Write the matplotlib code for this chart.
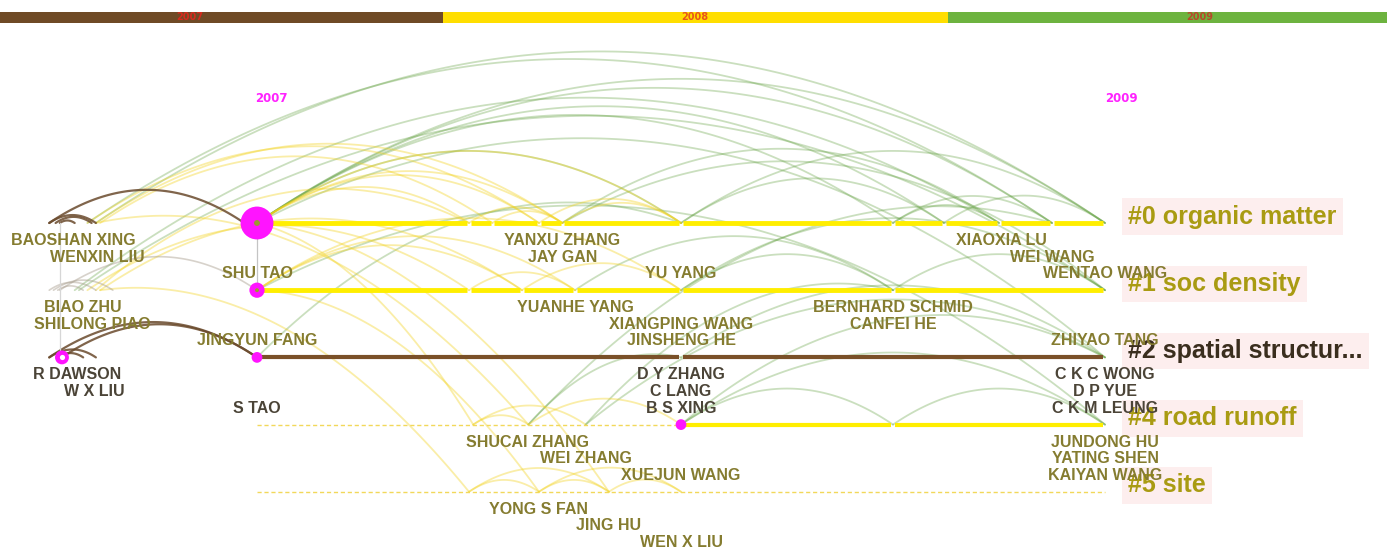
import matplotlib.pyplot as plt
import numpy as np

plt.rcParams['font.family'] = ['Liberation Sans', 'DejaVu Sans']

# time slices shown in the strip at the top (equal slices, first one cut off at the left)
slice_labels = ['2007', '2008', '2009']
slice_colors = ['#6f4a26', '#ffde00', '#6db33f']
slice_text_colors = ['#d62a1e', '#e8561a', '#b8482a']

# clusters, one lane each (top to bottom)
cluster_labels = ['#0 organic matter', '#1 soc density', '#2 spatial structur...',
                  '#4 road runoff', '#5 site']
cluster_text_colors = ['#a99b12', '#a99b12', '#3a2e1e', '#a99b12', '#a99b12']

# node times on each lane (the little gaps in the lane lines)
lane0_nodes = [2007.0, 2007.50, 2007.555, 2007.665, 2007.72, 2008.0,
               2008.5, 2008.62, 2008.75, 2008.875, 2009.0]
lane1_nodes = [2007.0, 2007.50, 2007.625, 2007.75, 2008.0, 2008.5, 2009.0]
lane2_nodes = [2007.0, 2008.0, 2009.0]
lane3_nodes = [2008.0, 2008.5, 2009.0]

# author labels: name, node time, lane, row under the lane
author_names = ['BAOSHAN XING', 'WENXIN LIU', 'SHU TAO', 'YANXU ZHANG', 'JAY GAN', 'YU YANG',
                'XIAOXIA LU', 'WEI WANG', 'WENTAO WANG',
                'BIAO ZHU', 'SHILONG PIAO', 'JINGYUN FANG', 'YUANHE YANG', 'XIANGPING WANG',
                'JINSHENG HE', 'BERNHARD SCHMID', 'CANFEI HE', 'ZHIYAO TANG',
                'R DAWSON', 'W X LIU', 'S TAO', 'D Y ZHANG', 'C LANG', 'B S XING',
                'C K C WONG', 'D P YUE', 'C K M LEUNG',
                'SHUCAI ZHANG', 'WEI ZHANG', 'XUEJUN WANG', 'JUNDONG HU', 'YATING SHEN', 'KAIYAN WANG',
                'YONG S FAN', 'JING HU', 'WEN X LIU']
author_time = [2006.566, 2006.623, 2007.0, 2007.72, 2007.72, 2008.0, 2008.755, 2008.875, 2009.0,
               2006.59, 2006.611, 2007.0, 2007.75, 2008.0, 2008.0, 2008.5, 2008.5, 2009.0,
               2006.575, 2006.616, 2007.0, 2008.0, 2008.0, 2008.0, 2009.0, 2009.0, 2009.0,
               2007.637, 2007.775, 2008.0, 2009.0, 2009.0, 2009.0,
               2007.665, 2007.83, 2008.0]
author_lane = [0] * 9 + [1] * 9 + [2] * 9 + [3] * 6 + [4] * 3
author_row = [0, 1, 2] * 12

# nodes drawn as magenta circles: time, lane
node_time = [2007.0, 2007.0, 2007.0, 2006.54, 2008.0]
node_lane = [0, 1, 2, 2, 3]

# co-citation arcs (from time, from lane, to time, to lane), grouped by slice colour
brown_arcs = [(2006.51, 0, 2006.97, 0), (2006.51, 0, 2006.62, 0), (2006.525, 0, 2006.61, 0),
              (2006.535, 0, 2006.57, 0), (2006.51, 2, 2007.0, 2), (2006.54, 2, 2007.0, 2),
              (2006.51, 2, 2006.62, 2), (2006.53, 2, 2006.59, 2)]
grey_arcs = [(2006.535, 1, 2007.0, 1), (2006.51, 1, 2006.62, 1), (2006.53, 1, 2006.59, 1),
             (2006.52, 1, 2006.66, 1)]
yellow_arcs = [(2006.62, 0, 2007.72, 0), (2006.60, 0, 2007.665, 0), (2006.63, 0, 2007.555, 0),
               (2006.62, 1, 2007.50, 0), (2006.60, 1, 2007.50, 1), (2006.63, 1, 2007.625, 1),
               (2007.0, 0, 2008.0, 0), (2007.0, 0, 2007.72, 0), (2007.0, 0, 2007.50, 0),
               (2007.0, 0, 2007.665, 0), (2007.0, 1, 2007.625, 1), (2007.0, 1, 2007.75, 1),
               (2007.0, 1, 2008.0, 1), (2007.50, 0, 2007.72, 0), (2007.555, 0, 2007.72, 0),
               (2007.665, 0, 2008.0, 0), (2007.72, 0, 2008.0, 0), (2007.50, 1, 2007.75, 1),
               (2007.625, 1, 2008.0, 1), (2007.0, 0, 2007.51, 3), (2006.62, 0, 2007.64, 3),
               (2007.0, 1, 2007.665, 4), (2006.63, 1, 2007.50, 4), (2007.0, 0, 2007.83, 4),
               (2007.51, 3, 2007.64, 3), (2007.51, 3, 2007.775, 3), (2007.64, 3, 2008.0, 3),
               (2007.50, 4, 2007.665, 4), (2007.50, 4, 2007.83, 4), (2007.665, 4, 2007.83, 4),
               (2007.665, 4, 2008.0, 4), (2007.83, 4, 2008.0, 4)]
green_arcs = [(2006.62, 0, 2009.0, 0), (2006.60, 0, 2008.875, 0), (2006.58, 1, 2009.0, 1),
              (2006.57, 1, 2008.75, 0), (2007.0, 0, 2008.5, 0), (2007.0, 0, 2008.62, 0),
              (2007.0, 0, 2008.875, 0), (2007.0, 0, 2009.0, 0), (2007.0, 0, 2008.0, 0),
              (2007.72, 0, 2008.75, 0), (2008.0, 0, 2009.0, 0), (2008.0, 0, 2008.62, 0),
              (2008.5, 0, 2008.875, 0), (2008.62, 0, 2009.0, 0), (2008.5, 0, 2008.75, 0),
              (2007.0, 2, 2008.0, 0), (2007.75, 1, 2008.5, 1), (2008.0, 1, 2009.0, 1),
              (2008.0, 1, 2008.5, 1), (2008.5, 1, 2009.0, 1), (2008.0, 3, 2009.0, 2),
              (2008.0, 3, 2009.0, 3), (2008.0, 3, 2008.5, 3), (2008.5, 3, 2009.0, 3),
              (2007.775, 3, 2009.0, 2), (2007.64, 3, 2008.0, 2), (2007.775, 3, 2008.5, 1),
              (2008.0, 2, 2009.0, 2), (2007.0, 0, 2009.0, 2), (2007.0, 1, 2009.0, 3),
              (2007.64, 3, 2008.875, 0), (2007.72, 0, 2009.0, 1)]

fig = plt.figure(figsize=(13.87, 5.49), dpi=100)

# top strip
bar = fig.add_axes([0.0, 1 - 23 / 549, 1.0, 11 / 549])
for i, (lab, c, tc) in enumerate(zip(slice_labels, slice_colors, slice_text_colors)):
    bar.barh(0, 1, left=i - 0.5, height=1, color=c)
    bar.text(i, 0, lab, color=tc, fontsize=7, fontweight='bold',
             ha='center', va='center', family='DejaVu Sans')
bar.set_xlim(-190 / 505, (1387 - 190) / 505)
bar.set_ylim(-0.5, 0.5)
bar.axis('off')

ax = fig.add_axes([0, 0, 1, 1])
ax.set_xlim(2007 - 257 / 424, 2007 + 1130 / 424)
ax.set_ylim((549 - 223) / 67.2, -223 / 67.2)
ax.axis('off')

arc_rise = 0.17 * 424 / 67.2


def draw_arc(t1, l1, t2, l2, color, alpha, lw):
    s = np.linspace(0, 1, 100)
    x = t1 + (t2 - t1) * s
    h = arc_rise * abs(t2 - t1)
    y = l1 + (l2 - l1) * s - 4 * h * s * (1 - s)
    ax.plot(x, y, color=color, alpha=alpha, lw=lw, zorder=1, solid_capstyle='round')


for a in green_arcs:
    draw_arc(*a, '#5f9e3c', 0.33, 1.3)
for a in yellow_arcs:
    draw_arc(*a, '#f2d21a', 0.38, 1.3)
for a in grey_arcs:
    draw_arc(*a, '#a79c8c', 0.45, 1.2)
for a in brown_arcs:
    draw_arc(*a, '#6a4a2c', 0.85, 1.6)

# connectors between the first nodes of neighbouring lanes
ax.plot([2006.535, 2006.535], [0, 2], color='#d6d6d6', lw=0.9, zorder=1)
ax.plot([2007.0, 2007.0], [0, 1], color='#c4c4c4', lw=0.9, zorder=1)

# lane lines
gap = 0.004


def draw_lane(nodes, lane, color, lw):
    for a, b in zip(nodes[:-1], nodes[1:]):
        ax.plot([a + gap, b - gap], [lane, lane], color=color, lw=lw,
                solid_capstyle='butt', zorder=2)


draw_lane(lane0_nodes, 0, '#ffee00', 3.5)
draw_lane(lane1_nodes, 1, '#ffee00', 3.5)
draw_lane(lane2_nodes, 2, '#7a5028', 3.0)
draw_lane(lane3_nodes, 3, '#ffee00', 3.0)
ax.plot([2007.0, 2008.0], [3, 3], color='#f2d85a', lw=1.0, ls=(0, (3, 2)), zorder=2)
ax.plot([2007.0, 2009.0], [4, 4], color='#f2d85a', lw=1.0, ls=(0, (3, 2)), zorder=2)

# nodes
node_sizes = [560, 120, 60, 100, 60]
ax.scatter(node_time, node_lane, s=node_sizes, color='#ff14ff', zorder=4, linewidths=0)
ax.scatter(node_time[:2], node_lane[:2], s=[18, 8], color='#9c9a30', zorder=5, linewidths=0)
ax.scatter(node_time[3], node_lane[3], s=14, color='white', zorder=5, linewidths=0)

# slice year marks
ax.text(2006.995, -1.8, '2007', color='#ff22ff', fontsize=8.5, fontweight='bold',
        ha='left', va='baseline', family='DejaVu Sans')
ax.text(2009.0, -1.8, '2009', color='#ff22ff', fontsize=8.5, fontweight='bold',
        ha='left', va='baseline', family='DejaVu Sans')

# author labels
for name, t, lane, row in zip(author_names, author_time, author_lane, author_row):
    c = '#4b4437' if lane == 2 else '#857c30'
    ax.text(t, lane + 0.247 * (row + 1) + 0.08, name, color=c, fontsize=11.5,
            fontweight='bold', ha='center', va='baseline', zorder=7)

# cluster labels
for i, (lab, c) in enumerate(zip(cluster_labels, cluster_text_colors)):
    ax.text(2009.054, i + 0.01, lab, color=c, fontsize=18, fontweight='bold',
            ha='left', va='baseline', zorder=6,
            bbox=dict(boxstyle='square,pad=0.25', fc='#fdeeee', ec='none'))

fig.savefig('out.png', dpi=100)
